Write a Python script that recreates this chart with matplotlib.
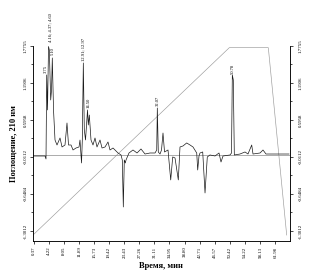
#!/usr/bin/env python
"""
chromatogram with gradient profile, recreated from a small scanned figure
"""

import numpy as np
import matplotlib
matplotlib.use('Agg')
import matplotlib.pyplot as plt

plt.rcParams['font.family'] = ['Liberation Serif', 'DejaVu Serif']

# chromatogram trace (time, min ; absorbance)
time_min = [0.11, 3.18, 3.43, 3.61, 3.82, 4.07, 4.28, 4.63, 4.84, 5.04, 5.35, 5.73,
            6.24, 7.01, 7.52, 8.28, 8.79, 9.18, 9.82, 10.33, 11.09, 11.86, 12.11,
            12.50, 12.70, 12.96, 13.21, 13.52, 14.03, 14.23, 14.49, 14.92, 15.43,
            15.94, 16.45, 17.22, 17.73, 18.50, 19.26, 19.77, 20.54, 21.82, 22.58,
            22.91, 23.17, 23.42, 23.68, 23.86, 24.62, 25.64, 26.67, 27.68, 28.71,
            29.98, 31.26, 31.70, 31.85, 32.10, 32.54, 32.92, 33.30, 33.69, 34.58,
            35.27, 35.78, 36.37, 37.21, 37.64, 38.41, 39.35, 40.20, 40.96, 41.91,
            42.16, 42.49, 42.75, 43.44, 44.03, 44.61, 45.30, 46.58, 47.60, 48.11,
            48.62, 50.41, 50.79, 51.00, 51.25, 51.51, 52.96, 54.24, 55.00, 55.95,
            56.28, 58.07, 58.83, 59.60, 65.47]
absorb = [-0.055, -0.055, -0.105, 1.293, 0.711, 1.767, 1.709, 0.877, 1.043, 1.576, 0.711, 0.211,
          0.128, 0.245, 0.095, 0.128, 0.494, 0.128, 0.128, 0.045, 0.078, 0.095, 0.211,
          -0.171, 0.211, 1.493, 0.378, 0.211, 0.711, 0.461, 0.627, 0.211, 0.128,
          0.245, 0.095, 0.211, 0.078, 0.095, 0.178, 0.045, 0.078, -0.005, -0.038,
          -0.121, -0.903, -0.121, -0.171, -0.121, -0.005, 0.045, -0.005, 0.062, -0.022,
          -0.005, -0.005, 0.045, 0.744, 0.012, -0.022, 0.045, 0.328, 0.012, 0.045,
          -0.454, -0.071, -0.088, -0.454, 0.095, 0.112, 0.162, 0.128, 0.095, -0.005,
          -0.288, -0.055, -0.005, 0.012, -0.670, -0.071, -0.038, -0.055, -0.005, -0.155,
          -0.055, -0.038, -0.005, 1.293, 1.210, -0.038, -0.022, 0.012, -0.022, 0.128,
          -0.022, -0.005, 0.045, -0.022, -0.022]

# gradient programme, drawn in the same axis units
grad_time = [0.11, 50.23, 60.19, 64.88]
grad_level = [-1.37, 1.747, 1.747, -1.37]
baseline_level = -0.04

# peak labels
peak_time = [3.45, 4.45, 5.25, 12.96, 14.30, 31.85, 51.00]
peak_level = [1.33, 1.84, 1.62, 1.53, 0.74, 0.78, 1.31]
peak_text = ['3.75', '4.16; 4.37; 4.60', '5.10', '12.91; 12.97', '14.50', '32.07', '50.78']

# axis ticks
xtick_labels = ['0.37', '4.22', '8.05', '11.89', '15.73', '19.42', '23.43', '27.26', '31.11',
                '34.95', '38.80', '42.71', '46.57', '50.42', '54.22', '58.13', '61.98']
ytick_labels = ['1.7755', '1.1906', '0.5958', '-0.0112', '-0.6484', '-1.3012']
y_top, y_bottom = 1.7755, -1.3012

fig = plt.figure(figsize=(3.11, 2.72), dpi=100)
ax = fig.add_axes([0.1061, 0.114, 0.8248, 0.718])

ax.plot(grad_time, grad_level, color='#9a9a9a', lw=0.45)
ax.axhline(baseline_level, color='#8a8a8a', lw=0.5)
ax.plot(time_min, absorb, color='#1a1a1a', lw=0.5)

for t, v, s in zip(peak_time, peak_level, peak_text):
    ax.text(t, v, s, rotation=90, fontsize=3.3, ha='center', va='bottom', clip_on=False)

ax.set_xlim(0.11, 65.6)
ax.set_ylim(-1.469, 1.78)

ytick_pos = np.linspace(y_top, y_bottom, len(ytick_labels))
ax.set_yticks(ytick_pos)
ax.set_yticklabels(ytick_labels)
ax.set_yticks((ytick_pos[:-1] + ytick_pos[1:]) / 2, minor=True)
ax.set_xticks([float(s) for s in xtick_labels])
ax.set_xticklabels(xtick_labels)

ax.spines['top'].set_visible(False)
for sp in ax.spines.values():
    sp.set_linewidth(0.5)

ax.tick_params(axis='x', labelsize=3.5, labelrotation=90, length=2.5, width=0.5, pad=1.5)
ax.tick_params(axis='y', labelsize=3.5, labelrotation=90, length=2.5, width=0.5, pad=1.5)
ax.tick_params(axis='y', which='minor', length=1.5, width=0.5)
for lab in ax.get_yticklabels():
    lab.set_va('center')

ax2 = ax.twinx()
ax2.set_ylim(ax.get_ylim())
ax2.set_yticks(ytick_pos)
ax2.set_yticklabels(ytick_labels)
ax2.set_yticks((ytick_pos[:-1] + ytick_pos[1:]) / 2, minor=True)
ax2.spines['top'].set_visible(False)
for sp in ax2.spines.values():
    sp.set_linewidth(0.5)
ax2.tick_params(axis='y', labelsize=3.5, labelrotation=90, length=2.5, width=0.5, pad=4)
ax2.tick_params(axis='y', which='minor', length=1.5, width=0.5)
for lab in ax2.get_yticklabels():
    lab.set_va('center')

ax.set_xlabel('Время, мин', fontsize=6, fontweight='bold', labelpad=3)
ax.set_ylabel('Поглощение, 210 нм', fontsize=6, fontweight='bold', labelpad=4)

fig.savefig('out.png', dpi=100)
